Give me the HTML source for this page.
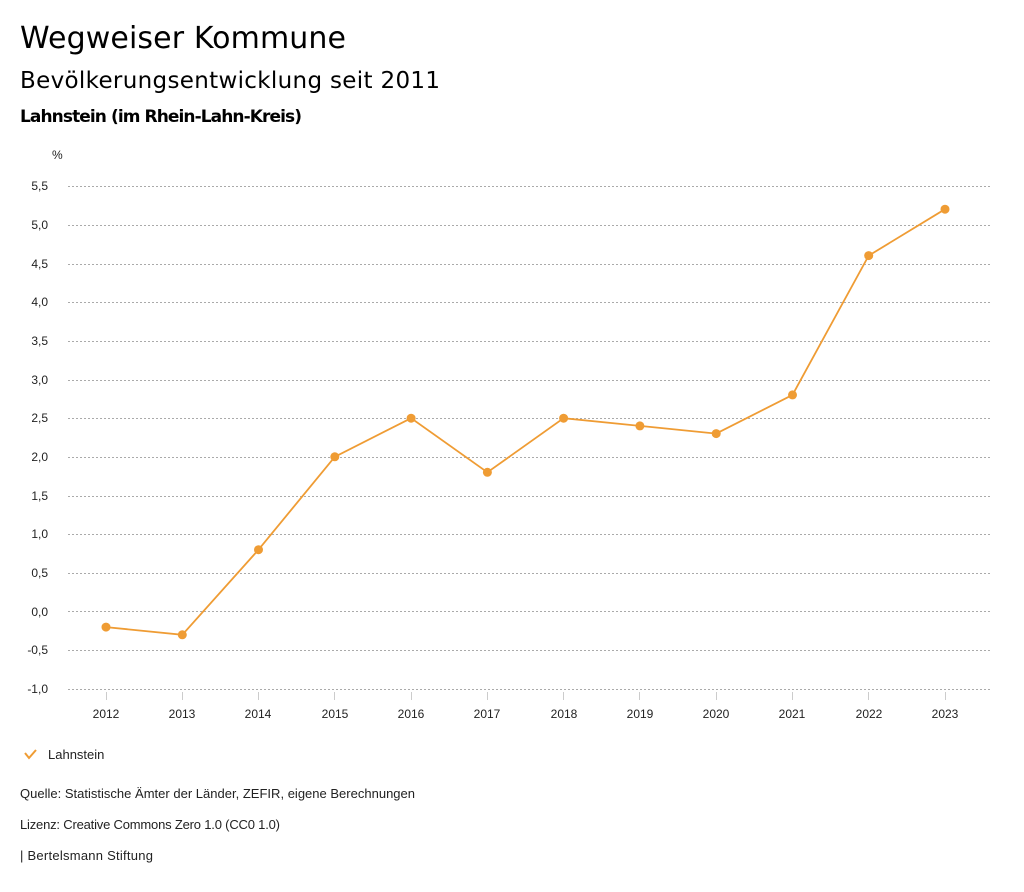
<!DOCTYPE html>
<html><head><meta charset="utf-8"><style>
body{margin:0;width:1024px;height:888px;background:#fff;font-family:"DejaVu Sans","Liberation Sans",sans-serif;color:#000;overflow:hidden}
</style></head><body>
<svg width="1024" height="888" xmlns="http://www.w3.org/2000/svg">
<text x="20" y="48" font-size="30" font-family="DejaVu Sans, sans-serif" textLength="326">Wegweiser Kommune</text>
<text x="20" y="88" font-size="23" font-family="DejaVu Sans, sans-serif" textLength="420">Bevölkerungsentwicklung seit 2011</text>
<text x="20" y="122" font-size="17" font-weight="bold" font-family="DejaVu Sans, sans-serif" textLength="282">Lahnstein (im Rhein-Lahn-Kreis)</text>
<g font-family="Liberation Sans, sans-serif" font-size="12" fill="#222">
<text x="52" y="159">%</text>
<g text-anchor="end">
<text x="48" y="190">5,5</text><text x="48" y="229">5,0</text><text x="48" y="268">4,5</text><text x="48" y="306">4,0</text><text x="48" y="345">3,5</text><text x="48" y="384">3,0</text><text x="48" y="422">2,5</text><text x="48" y="461">2,0</text><text x="48" y="500">1,5</text><text x="48" y="538">1,0</text><text x="48" y="577">0,5</text><text x="48" y="616">0,0</text><text x="48" y="654">-0,5</text><text x="48" y="693">-1,0</text>
</g>
<g stroke="#aaa" stroke-dasharray="2,2" stroke-width="1">
<line x1="68" x2="990" y1="186.5" y2="186.5"/><line x1="68" x2="990" y1="225.5" y2="225.5"/><line x1="68" x2="990" y1="264.5" y2="264.5"/><line x1="68" x2="990" y1="302.5" y2="302.5"/><line x1="68" x2="990" y1="341.5" y2="341.5"/><line x1="68" x2="990" y1="380.5" y2="380.5"/><line x1="68" x2="990" y1="418.5" y2="418.5"/><line x1="68" x2="990" y1="457.5" y2="457.5"/><line x1="68" x2="990" y1="496.5" y2="496.5"/><line x1="68" x2="990" y1="534.5" y2="534.5"/><line x1="68" x2="990" y1="573.5" y2="573.5"/><line x1="68" x2="990" y1="611.5" y2="611.5"/><line x1="68" x2="990" y1="650.5" y2="650.5"/><line x1="68" x2="990" y1="689.5" y2="689.5"/>
</g>
<g stroke="#ccc">
<line x1="106.5" x2="106.5" y1="692" y2="700"/><line x1="182.5" x2="182.5" y1="692" y2="700"/><line x1="258.5" x2="258.5" y1="692" y2="700"/><line x1="334.5" x2="334.5" y1="692" y2="700"/><line x1="411.5" x2="411.5" y1="692" y2="700"/><line x1="487.5" x2="487.5" y1="692" y2="700"/><line x1="563.5" x2="563.5" y1="692" y2="700"/><line x1="639.5" x2="639.5" y1="692" y2="700"/><line x1="716.5" x2="716.5" y1="692" y2="700"/><line x1="792.5" x2="792.5" y1="692" y2="700"/><line x1="868.5" x2="868.5" y1="692" y2="700"/><line x1="945.5" x2="945.5" y1="692" y2="700"/>
</g>
<g text-anchor="middle">
<text x="106" y="718">2012</text><text x="182" y="718">2013</text><text x="258" y="718">2014</text><text x="335" y="718">2015</text><text x="411" y="718">2016</text><text x="487" y="718">2017</text><text x="564" y="718">2018</text><text x="640" y="718">2019</text><text x="716" y="718">2020</text><text x="792" y="718">2021</text><text x="869" y="718">2022</text><text x="945" y="718">2023</text>
</g>
<polyline fill="none" stroke="#ef9c34" stroke-width="1.8" points="106,627.1 182.3,634.8 258.5,549.7 334.8,456.8 411.1,418.2 487.4,472.3 563.6,418.2 639.9,425.9 716.2,433.6 792.5,394.9 868.7,255.6 945,209.2"/>
<g fill="#ef9c34">
<circle cx="106" cy="627.1" r="4.5"/><circle cx="182.3" cy="634.8" r="4.5"/><circle cx="258.5" cy="549.7" r="4.5"/><circle cx="334.8" cy="456.8" r="4.5"/><circle cx="411.1" cy="418.2" r="4.5"/><circle cx="487.4" cy="472.3" r="4.5"/><circle cx="563.6" cy="418.2" r="4.5"/><circle cx="639.9" cy="425.9" r="4.5"/><circle cx="716.2" cy="433.6" r="4.5"/><circle cx="792.5" cy="394.9" r="4.5"/><circle cx="868.7" cy="255.6" r="4.5"/><circle cx="945" cy="209.2" r="4.5"/>
</g>
<polyline fill="none" stroke="#ef9c34" stroke-width="2" points="25,753 29,758 36,750"/>
<text x="48" y="759" font-size="13">Lahnstein</text>
<text x="20" y="798" font-size="13" textLength="395">Quelle: Statistische Ämter der Länder, ZEFIR, eigene Berechnungen</text>
<text x="20" y="829" font-size="13" textLength="260">Lizenz: Creative Commons Zero 1.0 (CC0 1.0)</text>
<text x="20" y="860" font-size="13" textLength="133">| Bertelsmann Stiftung</text>
</g>
</svg>
</body></html>
